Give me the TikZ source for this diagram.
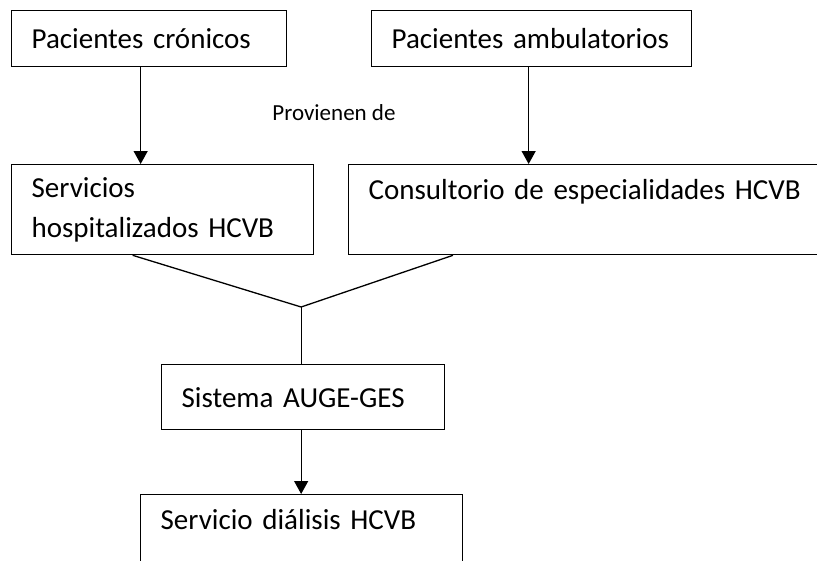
\documentclass[tikz,border=0pt]{standalone}
\usepackage{fontspec}
\setmainfont{Carlito}
\usetikzlibrary{arrows.meta}
\tikzset{
    caja/.style={rectangle, draw=black, line width=1.3pt, anchor=north west, align=left, inner xsep=20pt, inner ysep=0pt, font=\fontsize{29}{40}\selectfont},
    flecha/.style={-{Triangle[width=14pt,length=13pt]}, line width=1.3pt},
    linea/.style={line width=1.3pt},
    etiqueta/.style={font=\fontsize{23}{28}\selectfont}
}

\begin{document}
\begin{tikzpicture}[x=1pt, y=-1pt]
\useasboundingbox (0,0) rectangle (817,560);
\clip (0,0) rectangle (817,560);

% Cajas
\node (cronicos) [caja, text width=235pt, minimum height=56pt] at (11,10) {Pacientes crónicos};
\node (ambulat) [caja, text width=280pt, minimum height=56pt] at (371,10) {Pacientes ambulatorios};

\node (hosp) [caja, text width=262pt, minimum height=90pt] at (11,164) {Servicios\\hospitalizados HCVB};
\node (consult) [caja, text width=442pt, minimum height=90pt] at (348,164) {Consultorio de especialidades HCVB\\\mbox{}};

\node (auge) [caja, text width=243pt, minimum height=65pt] at (161,364) {Sistema AUGE-GES};
\node (dialisis) [caja, text width=282pt, minimum height=90pt] at (140,494) {Servicio diálisis HCVB\\\mbox{}};

\node (provienen) [etiqueta] at (334,113) {Provienen de};

% Flechas
\draw [flecha] ([xshift=-8.5pt]cronicos.south) -- ([xshift=-8.5pt]cronicos.south |- hosp.north);
\draw [flecha] ([xshift=-3pt]ambulat.south) -- ([xshift=-3pt]ambulat.south |- consult.north);

% Union hacia AUGE
\coordinate (union) at ([xshift=-2pt, yshift=57pt]auge.north);
\draw [linea] ([xshift=-30pt]hosp.south) -- (union);
\draw [linea] ([xshift=105pt]consult.south west) -- (union);
\draw [linea] (union) -- (union |- auge.north);

\draw [flecha] (union |- auge.south) -- (union |- dialisis.north);

\end{tikzpicture}
\end{document}
